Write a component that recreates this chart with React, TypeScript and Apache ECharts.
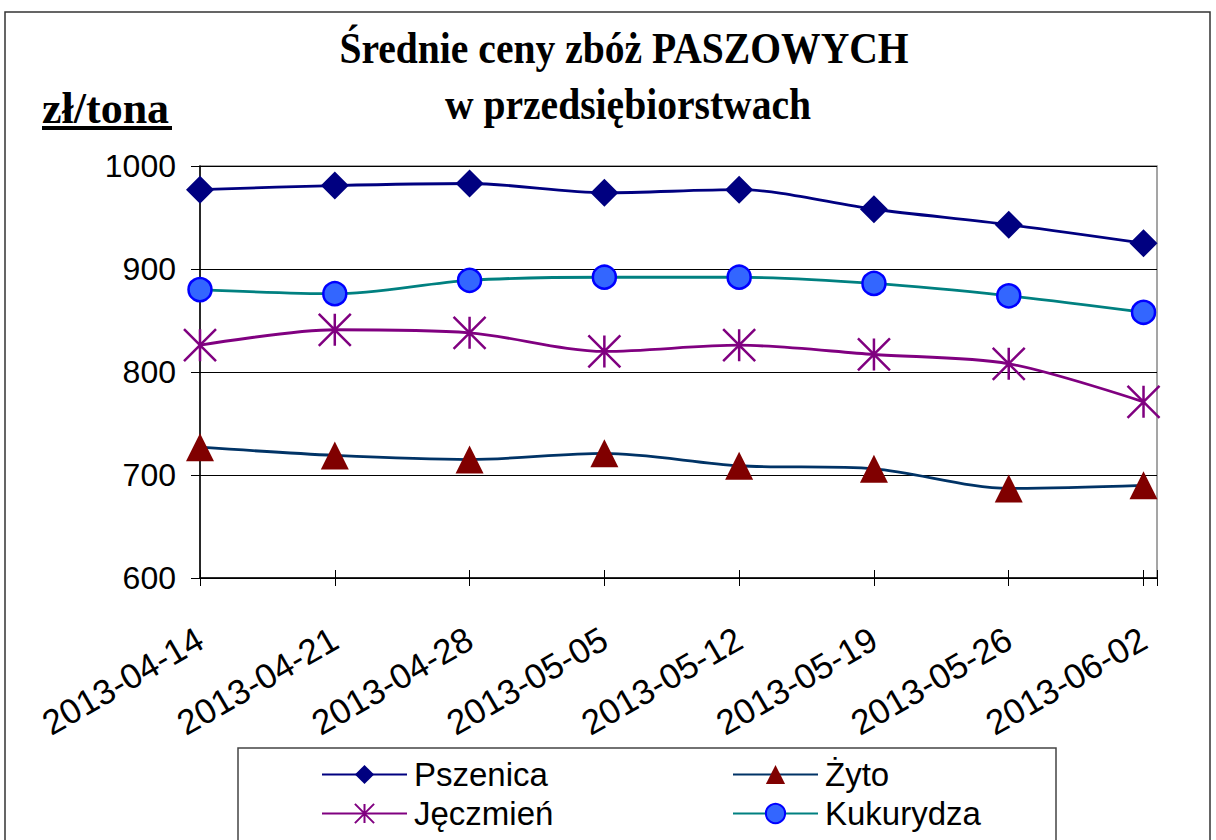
import React, { useEffect, useRef } from "react";
import * as echarts from "echarts";

const dates = ["2013-04-14", "2013-04-21", "2013-04-28", "2013-05-05", "2013-05-12", "2013-05-19", "2013-05-26", "2013-06-02"];
const pszenica = [977, 981, 983, 974, 977, 958, 943, 925];
const zyto = [727, 719, 715, 721, 709, 706, 687, 690];
const jeczmien = [826, 841, 838, 820, 826, 817, 808, 771];
const kukurydza = [880, 876, 889, 892, 892, 886, 874, 858];
const yTicks = { min: 600, max: 1000, interval: 100 };

const toPts = (arr: number[]) => arr.map((v, i) => [i, v]);

const SANS = "Liberation Sans, Arial, sans-serif";
const SERIF = "Liberation Serif, Times New Roman, serif";

export default function App() {
  const ref = useRef<HTMLDivElement>(null);
  useEffect(() => {
    if (!ref.current) return;
    const chart = echarts.init(ref.current, undefined, { renderer: "svg" });
    const asterisk = "path://M10,0L10,20M0,0L20,20M0,20L20,0";
    const legendBase = {
      orient: "vertical",
      top: 753,
      itemWidth: 85,
      itemHeight: 24,
      itemGap: 6,
      textStyle: { fontSize: 33, fontFamily: SANS, color: "#000", padding: [0, 0, 0, 2] },
    };
    chart.setOption({
      animation: false,
      backgroundColor: "#fff",
      grid: {
        left: 200,
        top: 166,
        width: 957,
        height: 412,
        show: true,
        borderColor: "#888",
        borderWidth: 1.5,
        backgroundColor: "transparent",
      },
      xAxis: [
        {
          type: "value",
          min: 0,
          max: 7.1,
          interval: 1,
          axisLine: { show: true, lineStyle: { color: "#000", width: 1.5 } },
          axisTick: { show: true, length: 8, lineStyle: { color: "#000", width: 1 } },
          splitLine: { show: false },
          axisLabel: {
            rotate: 30,
            margin: 58,
            fontSize: 35,
            fontFamily: SANS,
            color: "#000",
            showMaxLabel: true,
            formatter: (v: number) => (Number.isInteger(v) && dates[v] ? dates[v] : ""),
          },
        },
        {
          type: "value",
          min: 0,
          max: 7.1,
          interval: 1,
          position: "bottom",
          axisLine: { show: false },
          axisTick: { show: true, inside: true, length: 8, lineStyle: { color: "#000", width: 1 } },
          splitLine: { show: false },
          axisLabel: { show: false },
        },
      ],
      yAxis: {
        type: "value",
        min: yTicks.min,
        max: yTicks.max,
        interval: yTicks.interval,
        axisLine: { show: true, lineStyle: { color: "#000", width: 1.5 } },
        axisTick: { show: true, length: 9, lineStyle: { color: "#000" } },
        splitLine: { show: true, lineStyle: { color: "#000", width: 1.2 } },
        axisLabel: { fontSize: 32, fontFamily: SANS, color: "#000", margin: 24, formatter: (v: number) => String(v) },
      },
      legend: [
        { ...legendBase, data: ["Pszenica", "Jęczmień"], left: 316 },
        { ...legendBase, data: ["Żyto", "Kukurydza"], left: 727 },
      ],
      graphic: [
        {
          type: "rect",
          shape: { x: 5, y: 12, width: 1205, height: 900 },
          style: { fill: "none", stroke: "#333", lineWidth: 1.5 },
          silent: true,
        },
        {
          type: "rect",
          shape: { x: 238, y: 748, width: 818, height: 200 },
          style: { fill: "none", stroke: "#444", lineWidth: 1.5 },
          silent: true,
        },
        {
          type: "text",
          x: 624,
          y: 48,
          scaleX: 0.9,
          style: {
            text: "Średnie ceny zbóż PASZOWYCH",
            font: `bold 44px ${SERIF}`,
            fill: "#000",
            textAlign: "center",
            textVerticalAlign: "middle",
          },
        },
        {
          type: "text",
          x: 628,
          y: 104,
          scaleX: 0.9,
          style: {
            text: "w przedsiębiorstwach",
            font: `bold 44px ${SERIF}`,
            fill: "#000",
            textAlign: "center",
            textVerticalAlign: "middle",
          },
        },
        {
          type: "text",
          x: 42,
          y: 108,
          style: {
            text: "zł/tona",
            font: `bold 44px ${SERIF}`,
            fill: "#000",
            textAlign: "left",
            textVerticalAlign: "middle",
          },
        },
        {
          type: "rect",
          shape: { x: 42, y: 126, width: 130, height: 4 },
          style: { fill: "#000" },
        },
      ],
      series: [
        {
          name: "Pszenica",
          type: "line",
          data: toPts(pszenica),
          smooth: 0.3,
          symbol: "diamond",
          symbolSize: 28,
          lineStyle: { color: "#000080", width: 2.8 },
          itemStyle: { color: "#000080" },
        },
        {
          name: "Żyto",
          type: "line",
          data: toPts(zyto),
          smooth: 0.3,
          symbol: "triangle",
          symbolSize: 28,
          lineStyle: { color: "#003366", width: 2.8 },
          itemStyle: { color: "#800000" },
        },
        {
          name: "Jęczmień",
          type: "line",
          data: toPts(jeczmien),
          smooth: 0.3,
          symbol: asterisk,
          symbolSize: 32,
          lineStyle: { color: "#800080", width: 2.8 },
          itemStyle: { color: "#800080", borderColor: "#800080", borderWidth: 2.5 },
        },
        {
          name: "Kukurydza",
          type: "line",
          data: toPts(kukurydza),
          smooth: 0.3,
          symbol: "circle",
          symbolSize: 23,
          lineStyle: { color: "#008080", width: 2.8 },
          itemStyle: { color: "#3366FF", borderColor: "#0000FF", borderWidth: 2.5 },
        },
      ],
    });
    return () => chart.dispose();
  }, []);
  return <div ref={ref} style={{ position: "absolute", left: 0, top: 0, width: 1216, height: 840 }} />;
}
